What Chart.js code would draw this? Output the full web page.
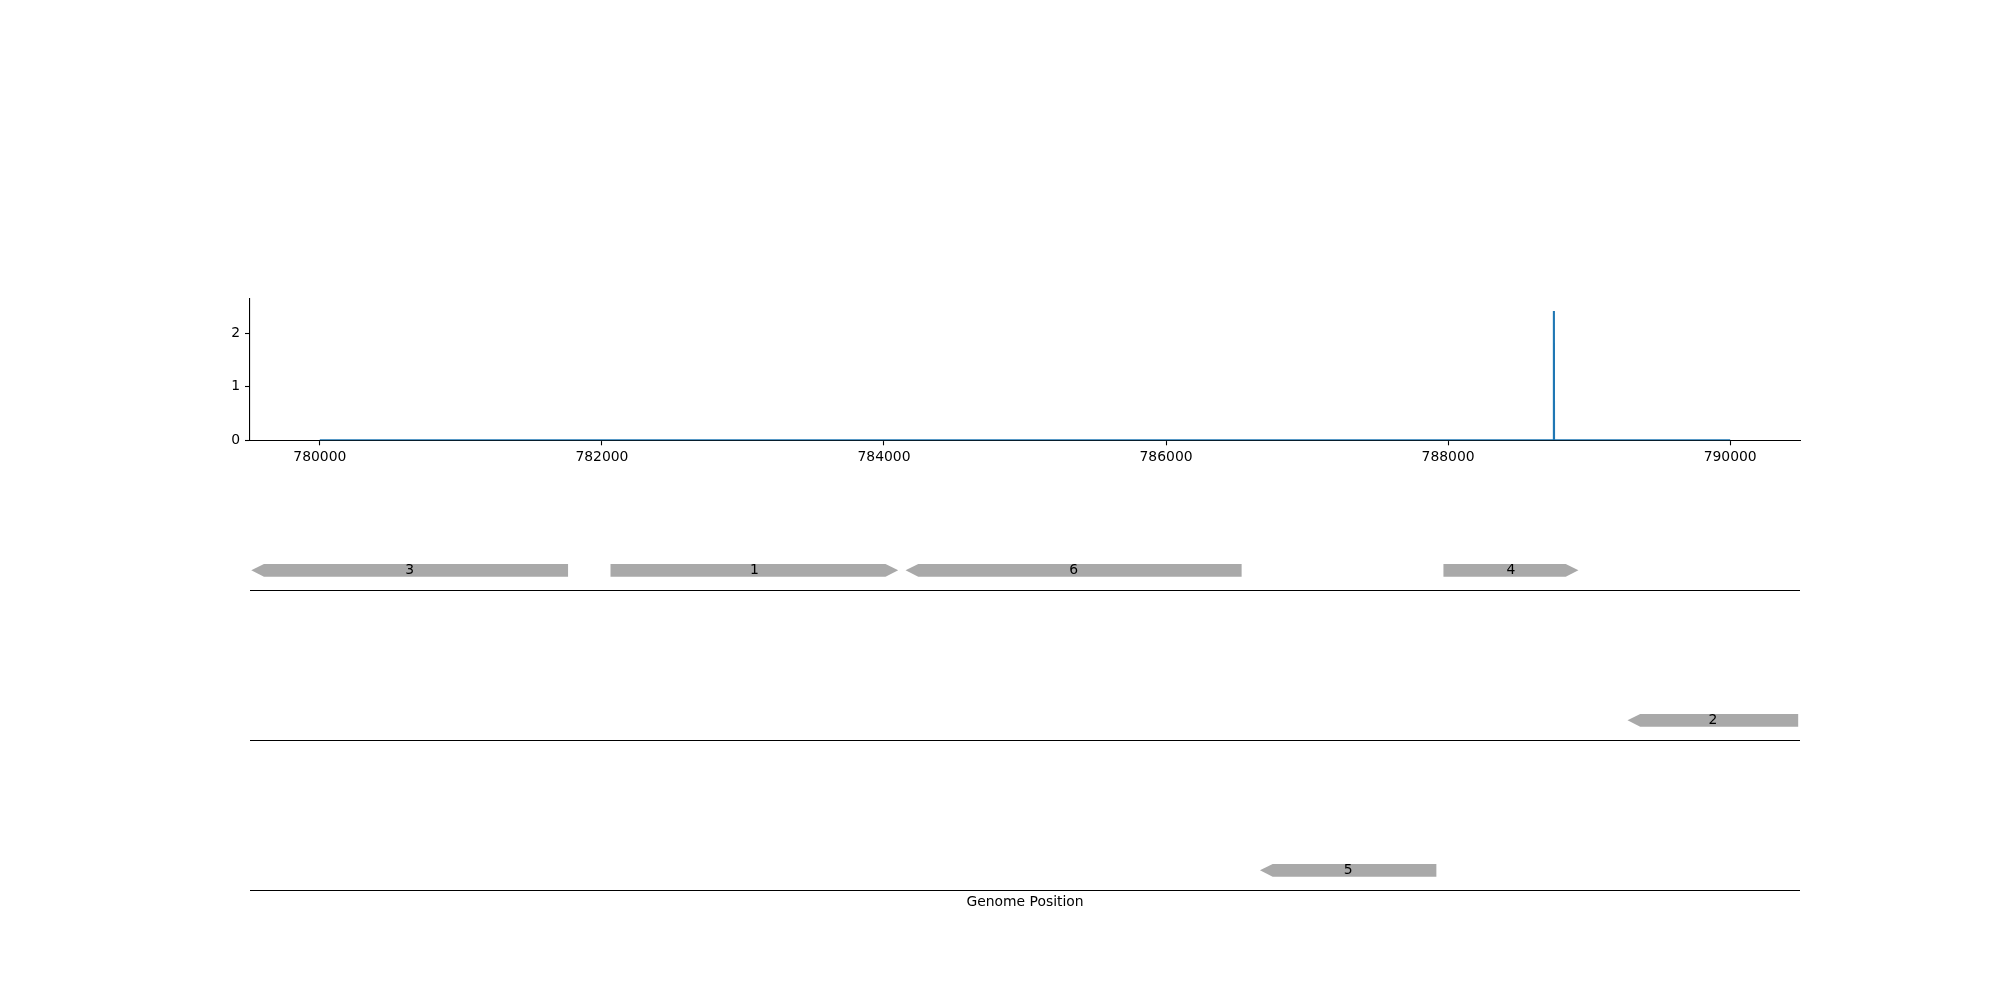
<!DOCTYPE html>
<html>
<head>
<meta charset="utf-8">
<script src="https://cdn.jsdelivr.net/npm/chart.js@4/dist/chart.umd.min.js"></script>
<style>
  html, body { margin: 0; padding: 0; background: #ffffff; }
  #wrap { position: relative; width: 2000px; height: 1000px; }
  canvas { position: absolute; left: 0; top: 0; }
</style>
</head>
<body>
<div id="wrap">
  <canvas id="cov" width="2000" height="1000"></canvas>
  <canvas id="genes" width="2000" height="1000"></canvas>
</div>
<script>
// ---- data ----
const covPositions = [780000, 788749, 788750, 788751, 790000];
const covValues    = [0, 0, 2.41, 0, 0];
const xTicks = [780000, 782000, 784000, 786000, 788000, 790000];
const yTicks = [0, 1, 2];
const xMin = 779505, xMax = 790495;
const yMax = 2.645;

const geneNames   = ['3', '1', '6', '4', '2', '5'];
const geneStarts  = [779514, 782061, 784153, 787967, 789272, 786666];
const geneEnds    = [781760, 784101, 786536, 788924, 790482, 787917];
const geneStrands = [-1, 1, -1, 1, -1, -1];
const geneTracks  = [2, 2, 2, 2, 1, 0];   // 2 = top track, 0 = bottom track
const trackBaselines = [0, 1, 2];

const FONT = { family: 'DejaVu Sans', size: 13.9 };

// ---- coverage chart ----
new Chart(document.getElementById('cov'), {
  type: 'line',
  data: {
    datasets: [{
      data: covPositions.map((x, i) => ({ x: x, y: covValues[i] })),
      borderColor: '#1f77b4',
      borderWidth: 2.1,
      pointRadius: 0,
      tension: 0,
      fill: false
    }]
  },
  options: {
    responsive: false,
    devicePixelRatio: 1,
    animation: false,
    events: [],
    layout: { padding: { left: 200, right: 200, top: 298.5, bottom: 519.7 } },
    plugins: { legend: { display: false }, tooltip: { enabled: false } },
    scales: {
      x: {
        type: 'linear',
        min: xMin, max: xMax,
        afterFit: s => { s.height = 40; },
        afterBuildTicks: s => { s.ticks = xTicks.map(v => ({ value: v })); },
        grid: { display: true, drawOnChartArea: false, drawTicks: true, tickLength: 5, tickWidth: 1.1, tickColor: '#000' },
        border: { display: true, color: '#000', width: 1.1 },
        ticks: { color: '#000', font: FONT, padding: 4, maxRotation: 0, autoSkip: false, callback: v => String(v) }
      },
      y: {
        type: 'linear',
        min: 0, max: yMax,
        afterFit: s => { s.width = 50; },
        afterBuildTicks: s => { s.ticks = yTicks.map(v => ({ value: v })); },
        grid: { display: true, drawOnChartArea: false, drawTicks: true, tickLength: 5, tickWidth: 1.1, tickColor: '#000' },
        border: { display: true, color: '#000', width: 1.1 },
        ticks: { color: '#000', font: FONT, padding: 5, callback: v => String(v) }
      }
    }
  }
});

// ---- gene tracks chart ----
const genePlugin = {
  id: 'genes',
  afterDatasetsDraw(chart) {
    const ctx = chart.ctx;
    const xs = chart.scales.x, ys = chart.scales.y;
    const area = chart.chartArea;
    ctx.save();
    // baselines
    ctx.strokeStyle = '#000';
    ctx.lineWidth = 1.1;
    trackBaselines.forEach(b => {
      const y = Math.round(ys.getPixelForValue(b)) + 0.5;
      ctx.beginPath();
      ctx.moveTo(area.left, y);
      ctx.lineTo(area.right, y);
      ctx.stroke();
    });
    // genes
    const offset = 0.133, half = 0.0425, headLen = 90;
    geneNames.forEach((name, i) => {
      const t = geneTracks[i];
      const x1 = xs.getPixelForValue(geneStarts[i]);
      const x2 = xs.getPixelForValue(geneEnds[i]);
      const yc = ys.getPixelForValue(t + offset);
      const yt = ys.getPixelForValue(t + offset + half);
      const yb = ys.getPixelForValue(t + offset - half);
      const hl = Math.abs(xs.getPixelForValue(geneStarts[i] + headLen) - x1);
      ctx.fillStyle = '#a9a9a9';
      ctx.beginPath();
      if (geneStrands[i] < 0) {
        ctx.moveTo(x1, yc);
        ctx.lineTo(x1 + hl, yt);
        ctx.lineTo(x2, yt);
        ctx.lineTo(x2, yb);
        ctx.lineTo(x1 + hl, yb);
      } else {
        ctx.moveTo(x1, yt);
        ctx.lineTo(x2 - hl, yt);
        ctx.lineTo(x2, yc);
        ctx.lineTo(x2 - hl, yb);
        ctx.lineTo(x1, yb);
      }
      ctx.closePath();
      ctx.fill();
      ctx.fillStyle = '#000';
      ctx.font = '13.9px "DejaVu Sans"';
      ctx.textAlign = 'center';
      ctx.textBaseline = 'middle';
      ctx.fillText(name, (x1 + x2) / 2, yc);
    });
    ctx.restore();
  }
};

new Chart(document.getElementById('genes'), {
  type: 'scatter',
  data: { datasets: [{ data: [] }] },
  options: {
    responsive: false,
    devicePixelRatio: 1,
    animation: false,
    events: [],
    layout: { padding: { left: 250, right: 200, top: 440.3, bottom: 0 } },
    plugins: { legend: { display: false }, tooltip: { enabled: false } },
    scales: {
      x: {
        type: 'linear',
        min: xMin, max: xMax,
        afterFit: s => { s.height = 109.7; },
        grid: { display: false },
        border: { display: false },
        ticks: { display: false },
        title: { display: true, text: 'Genome Position', color: '#000', font: FONT, padding: { top: 0, bottom: 89.7 } }
      },
      y: {
        type: 'linear',
        min: 0, max: 3,
        display: false
      }
    }
  },
  plugins: [genePlugin]
});
</script>
</body>
</html>
